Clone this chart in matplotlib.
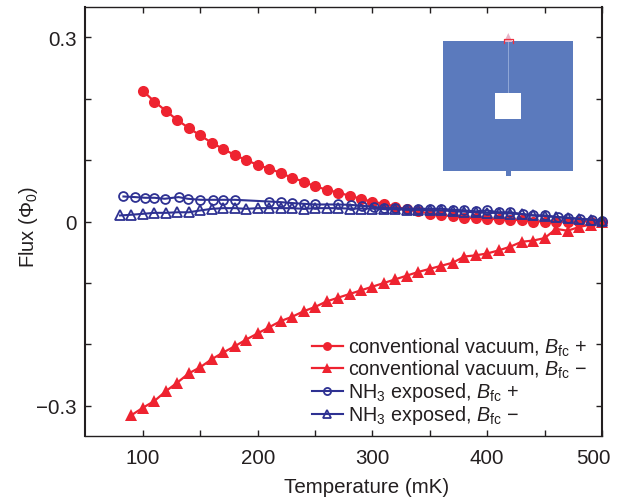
import matplotlib
matplotlib.use("Agg")
import matplotlib.pyplot as plt
from matplotlib.patches import Rectangle, Polygon
from matplotlib.transforms import ScaledTranslation, IdentityTransform

plt.rcParams['font.family'] = ['Liberation Sans', 'DejaVu Sans']
plt.rcParams['mathtext.fontset'] = 'custom'
plt.rcParams['mathtext.rm'] = 'Liberation Sans'
plt.rcParams['mathtext.it'] = 'Liberation Sans:italic'
plt.rcParams['mathtext.default'] = 'regular'

# ---- data ----
t_vac_plus = list(range(100, 501, 10))
flux_vac_plus = [0.2126, 0.195, 0.180, 0.165, 0.152, 0.140, 0.128, 0.118, 0.108, 0.100, 0.092,
                 0.086, 0.079, 0.071, 0.065, 0.057, 0.052, 0.047, 0.042, 0.037, 0.032, 0.029,
                 0.024, 0.020, 0.017, 0.0125, 0.010, 0.009, 0.006, 0.005, 0.004, 0.004, 0.003,
                 0.002, 0.000, 0.000, 0.000, 0.000, 0.000, 0.000, 0.000]

t_vac_minus = list(range(90, 501, 10))
flux_vac_minus = [-0.315, -0.303, -0.292, -0.276, -0.262, -0.247, -0.237, -0.224, -0.213, -0.203,
                  -0.192, -0.182, -0.172, -0.162, -0.155, -0.146, -0.139, -0.130, -0.124, -0.118,
                  -0.112, -0.106, -0.100, -0.094, -0.088, -0.082, -0.077, -0.072, -0.067, -0.057,
                  -0.055, -0.052, -0.047, -0.041, -0.033, -0.031, -0.027, -0.012, -0.015,
                  -0.009, -0.005, 0.000]

t_nh3_plus = [83, 93, 102, 110, 119, 131, 139, 150, 161, 170, 180, 210, 220, 230, 240, 250, 270,
              281, 291, 301, 310, 320, 330, 340, 350, 360, 370, 380, 390, 400, 410, 420, 431,
              440, 450, 462, 470, 481, 491, 500]
flux_nh3_plus = [0.0407, 0.0397, 0.0386, 0.0386, 0.037, 0.0397, 0.037, 0.0353, 0.0353, 0.0353,
                 0.0353, 0.0325, 0.0315, 0.030, 0.0288, 0.0277, 0.0277, 0.027, 0.0255, 0.024,
                 0.0218, 0.0218, 0.0207, 0.0207, 0.0207, 0.0207, 0.019, 0.018, 0.0165, 0.018,
                 0.015, 0.015, 0.012, 0.0098, 0.0098, 0.0072, 0.006, 0.0044, 0.003, 0.0016]

t_nh3_minus = list(range(80, 501, 10))
flux_nh3_minus = [0.0098, 0.011, 0.0125, 0.0141, 0.0141, 0.015, 0.015, 0.018, 0.0206, 0.0217,
                  0.0217, 0.0206, 0.0217, 0.0217, 0.0217, 0.0217, 0.0206, 0.0217, 0.0217, 0.0217,
                  0.021, 0.021, 0.021, 0.020, 0.020, 0.019, 0.019, 0.018, 0.018, 0.017, 0.016,
                  0.015, 0.014, 0.014, 0.013, 0.012, 0.010, 0.009, 0.007, 0.006, 0.004, 0.003, 0.001]

x_ticks = [100, 150, 200, 250, 300, 350, 400, 450, 500]
x_labels = ['100', '', '200', '', '300', '', '400', '', '500']
y_ticks = [-0.3, -0.2, -0.1, 0, 0.1, 0.2, 0.3]
y_labels = ['\u22120.3', '', '', '0', '', '', '0.3']

RED = '#EE2330'
BLUE = '#2E3192'
INK = '#231F20'
W, H = 618, 502

fig = plt.figure(figsize=(W / 100, H / 100), dpi=100)
ax = fig.add_axes([85 / W, 1 - 437 / H, (602 - 85) / W, (437 - 8) / H])
ax.set_xlim(49.5, 500)
ax.set_ylim(-0.349, 0.349)

l1, = ax.plot(t_vac_plus, flux_vac_plus, '-o', color=RED, lw=1.6, ms=8, mew=0, clip_on=False,
              label='conventional vacuum, $\\mathit{B}_{fc}$ +')
l2, = ax.plot(t_vac_minus, flux_vac_minus, '-^', color=RED, lw=1.6, ms=8.2, mew=0, clip_on=False,
              label='conventional vacuum, $\\mathit{B}_{fc}$ \u2212')
l3, = ax.plot(t_nh3_plus, flux_nh3_plus, '-o', color=BLUE, lw=1.5, ms=6.4, mew=1.3, mfc='none',
              clip_on=False, label='NH$_3$ exposed, $\\mathit{B}_{fc}$ +')
l4, = ax.plot(t_nh3_minus, flux_nh3_minus, '-^', color=BLUE, lw=1.5, ms=7.4, mew=1.3, mfc='none',
              clip_on=False, label='NH$_3$ exposed, $\\mathit{B}_{fc}$ \u2212')

ax.set_xticks(x_ticks, x_labels)
ax.set_yticks(y_ticks, y_labels)
ax.tick_params(direction='in', length=4.3, width=1.0, top=True, right=True,
               labelsize=14.8, labelcolor=INK, color=INK, pad=6)
ax.tick_params(axis='x', pad=9)
for s in ax.spines.values():
    s.set_color(INK)
    s.set_linewidth(1.0)
ax.spines['left'].set_linewidth(1.5)
ax.spines['right'].set_linewidth(1.5)

# The last x label sits left of its tick
last = ax.get_xticklabels()[-1]
last.set_transform(last.get_transform() + ScaledTranslation(-9 / 100, 0, fig.dpi_scale_trans))

fig.text(367 / W, 1 - 488 / H, 'Temperature (mK)', ha='center', va='center', fontsize=14.8, color=INK)
fig.text(28 / W, 1 - 227 / H, 'Flux (\u03a6$_0$)', ha='center', va='center', rotation=90,
         fontsize=14.5, color=INK)

leg = ax.legend(handles=[l1, l2, l3, l4], loc='lower left',
                bbox_to_anchor=(312, H - 427.5), bbox_transform=IdentityTransform(),
                frameon=False, fontsize=14.2, handlelength=1.57, handletextpad=0.25,
                labelspacing=0.0, borderaxespad=0, borderpad=0, markerscale=0.8)
for t in leg.get_texts():
    t.set_color(INK)

# Device micrograph inset, drawn in pixel coordinates
def px(x, y):
    return x, H - y

tr = IdentityTransform()
SQ = '#5B7ABD'
art = [
    Rectangle(px(443, 172), 130, 130, fc=SQ, ec='none'),
    Rectangle(px(505.8, 177), 5, 6, fc=SQ, ec='none'),
    Rectangle(px(495, 119.5), 26, 25.5, fc='white', ec='none'),
    Rectangle(px(507.6, 94), 1.3, 52, fc='#8FA6D6', ec='none'),
    Polygon([px(508.3, 34), px(504, 43), px(512.5, 43)], closed=True, fc='#E8B4C8', ec='none'),
]
for a in art:
    a.set_transform(tr)
    fig.add_artist(a)
fig.add_artist(plt.Line2D([504, 504, 513, 513], [H - 43.5, H - 40, H - 40, H - 43.5],
                          color='#EE3040', lw=0.9, transform=tr))

fig.savefig('out.png', dpi=100, facecolor='white')
